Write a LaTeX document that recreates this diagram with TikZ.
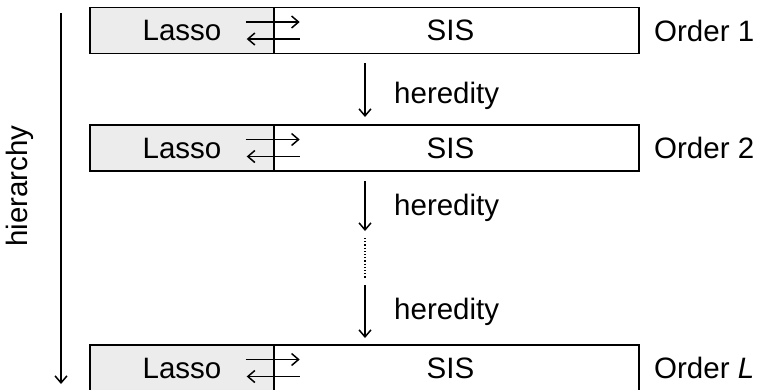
\documentclass[tikz,border=0pt]{standalone}
\usepackage{fontspec}
\setmainfont{Liberation Sans}
\usetikzlibrary{arrows.meta,calc}
\begin{document}
\begin{tikzpicture}[x=1pt,y=-1pt,
  font=\fontsize{29.5}{32}\selectfont,
  lassobox/.style={draw, line width=1.4pt, fill=gray!15, minimum width=184pt, minimum height=46pt, inner sep=0pt},
  sisbox/.style={draw, line width=1.4pt, fill=white, minimum width=365pt, minimum height=46pt, inner sep=0pt},
  arr/.style={line width=1.5pt, -{Straight Barb[length=7pt,width=12pt,line width=1.5pt]}},
  lbl/.style={anchor=west, inner sep=0pt}]
\useasboundingbox (0,0) rectangle (759,389);
% rows
\foreach \r/\y/\o in {1/30.5/1, 2/148/2, 3/368/\textit{L}}{
  \node[lassobox] (l\r) at (182,\y) {Lasso};
  \node[sisbox] (s\r) at (456.5,\y) {\hspace*{-12pt}SIS};
  \node[lbl] (o\r) at (654,\y) {Order \o};
  \draw[arr] ($(l\r.east)+(-29,-8.5)$) -- ($(l\r.east)+(25,-8.5)$);
  \draw[arr] ($(l\r.east)+(25,8.5)$) -- ($(l\r.east)+(-28,8.5)$);
}
% heredity arrows
\coordinate (a1) at (365,63);
\coordinate (b1) at (365,117);
\coordinate (a2) at (365,181);
\coordinate (b2) at (365,231);
\coordinate (d1) at (365,238);
\coordinate (d2) at (365,278);
\coordinate (a3) at (365,285);
\coordinate (b3) at (365,338);
\draw[arr] (a1) -- (b1);
\draw[arr] (a2) -- (b2);
\draw[line width=1.2pt, dotted] (d1) -- (d2);
\draw[arr] (a3) -- (b3);
\node[lbl] (h1) at (394,96) {heredity};
\node[lbl] (h2) at (394,208) {heredity};
\node[lbl] (h3) at (394,312) {heredity};
% hierarchy
\coordinate (t0) at (61,13);
\coordinate (t1) at (61,384);
\draw[arr] (t0) -- (t1);
\node[rotate=90, inner sep=0pt] (hier) at (20,186) {hierarchy};
\end{tikzpicture}
\end{document}
